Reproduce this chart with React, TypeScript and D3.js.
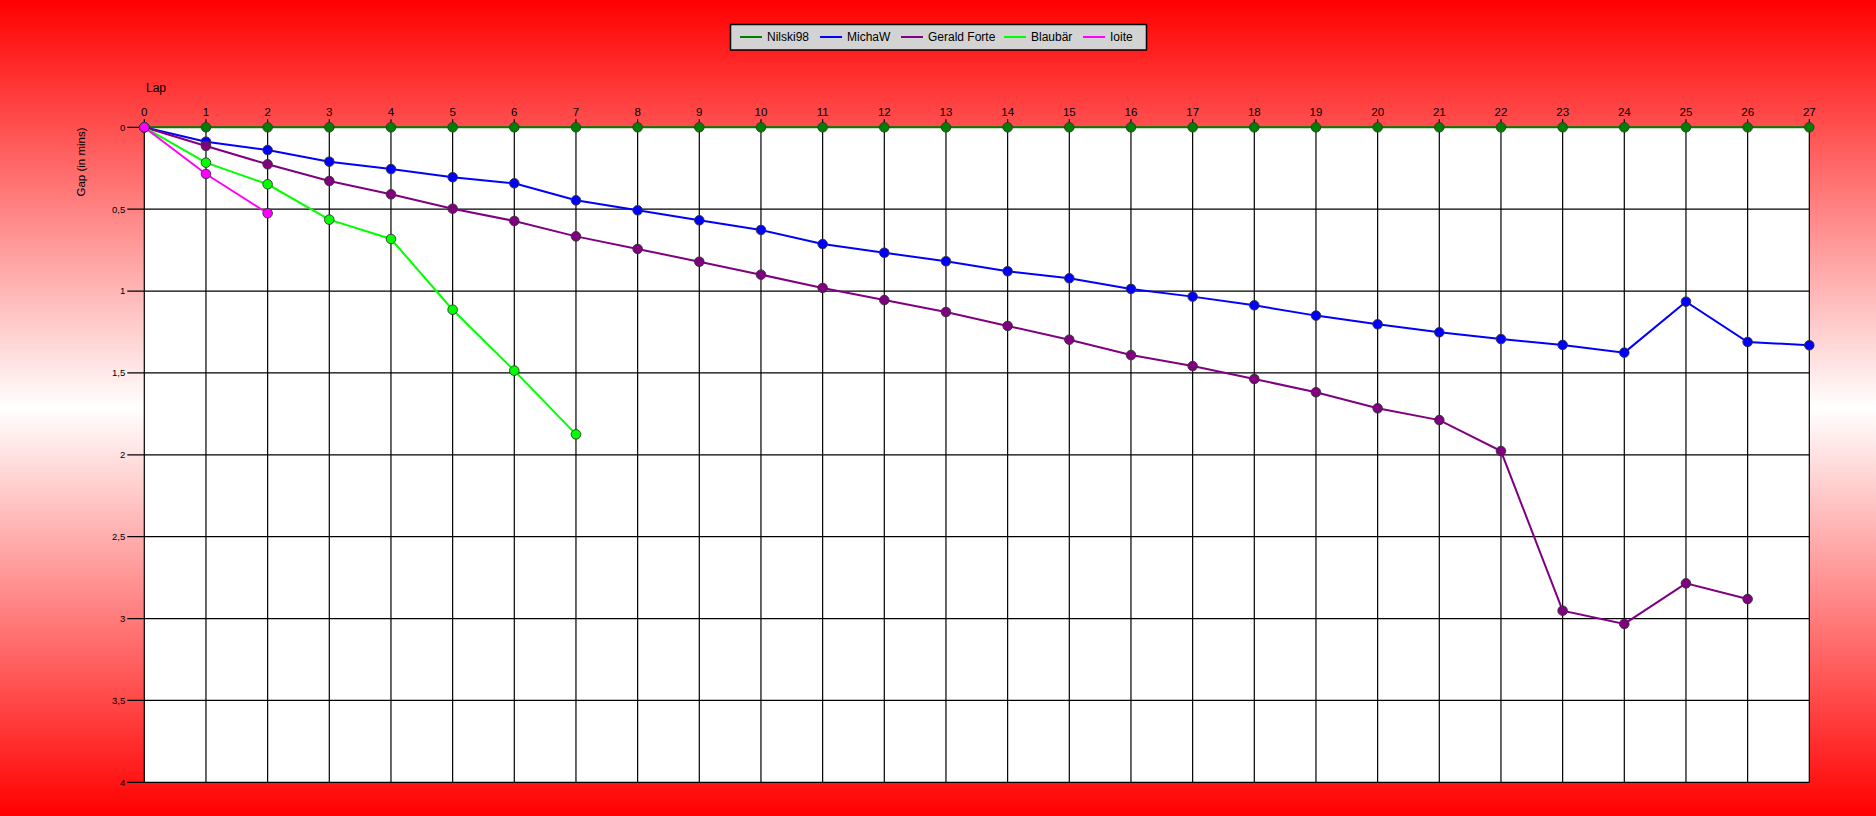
import React, { useEffect } from "react";
import * as d3 from "d3";

const laps = d3.range(0, 28);
const nilski98 = laps.map(() => 0);
const michaW = [0, 0.088, 0.139, 0.21, 0.255, 0.305, 0.342, 0.446, 0.507, 0.568, 0.627, 0.713, 0.766, 0.818, 0.879, 0.922, 0.987, 1.034, 1.087, 1.15, 1.203, 1.252, 1.293, 1.329, 1.376, 1.065, 1.311, 1.331];
const geraldForte = [0, 0.114, 0.226, 0.328, 0.409, 0.497, 0.572, 0.666, 0.743, 0.821, 0.9, 0.981, 1.055, 1.128, 1.213, 1.297, 1.391, 1.458, 1.537, 1.618, 1.716, 1.788, 1.977, 2.952, 3.033, 2.785, 2.881];
const blaubaer = [0, 0.216, 0.348, 0.564, 0.682, 1.114, 1.486, 1.875];
const ioite = [0, 0.285, 0.525];

const seriesNames = ["Nilski98", "MichaW", "Gerald Forte", "Blaubär", "Ioite"];
const seriesColors = ["#008000", "#0000ff", "#800080", "#00ff00", "#ff00ff"];
const seriesValues = [nilski98, michaW, geraldForte, blaubaer, ioite];
const yTicks = [0, 0.5, 1, 1.5, 2, 2.5, 3, 3.5, 4];
const yTickLabels = ["0", "0,5", "1", "1,5", "2", "2,5", "3", "3,5", "4"];

const W = 1876;
const H = 816;
const left = 144.3;
const right = 1809.3;
const top = 127.3;
const bottom = 782.3;

export default function App() {
  useEffect(() => {
    document.body.style.margin = "0";
  }, []);

  const x = d3.scaleLinear().domain([0, 27]).range([left, right]);
  const y = d3.scaleLinear().domain([0, 4]).range([top, bottom]);
  const line = d3
    .line<number>()
    .x((_, i) => x(i))
    .y((d) => y(d));

  const font = "'Liberation Sans', Arial, sans-serif";

  const legendX = [740, 820, 901, 1004, 1083];

  return (
    <svg width={W} height={H} style={{ display: "block" }} fontFamily={font}>
      <defs>
        <linearGradient id="bg" x1="0" y1="0" x2="0" y2="1">
          <stop offset="0%" stopColor="#ff0000" />
          <stop offset="50%" stopColor="#ffffff" />
          <stop offset="100%" stopColor="#ff0000" />
        </linearGradient>
      </defs>
      <rect x={0} y={0} width={W} height={H} fill="url(#bg)" />
      <rect x={left} y={top} width={right - left} height={bottom - top} fill="#ffffff" />

      {/* vertical grid + x ticks */}
      {laps.map((l) => (
        <g key={"vx" + l}>
          <line x1={x(l)} x2={x(l)} y1={top - 8} y2={bottom} stroke="#000" strokeWidth={1.2} />
          <text x={x(l)} y={top - 11} fontSize={11.5} textAnchor="middle" fill="#000">
            {l}
          </text>
        </g>
      ))}
      {/* horizontal grid + y ticks */}
      {yTicks.map((t, i) => (
        <g key={"hy" + t}>
          <line x1={left - 17} x2={right} y1={y(t)} y2={y(t)} stroke="#000" strokeWidth={1.2} />
          <text x={left - 19} y={y(t)} dy="0.35em" fontSize={9.5} textAnchor="end" fill="#000">
            {yTickLabels[i]}
          </text>
        </g>
      ))}

      <text x={146} y={92} fontSize={12} fill="#000">
        Lap
      </text>
      <text
        transform={`translate(85,162) rotate(-90)`}
        fontSize={11.5}
        textAnchor="middle"
        fill="#000"
      >
        Gap (in mins)
      </text>

      {seriesValues.map((vals, si) => (
        <g key={"s" + si}>
          <path d={line(vals) || ""} fill="none" stroke={seriesColors[si]} strokeWidth={2} />
          {vals.map((v, i) => (
            <circle
              key={i}
              cx={x(i)}
              cy={y(v)}
              r={4.8}
              fill={seriesColors[si]}
              stroke="#333"
              strokeWidth={0.9}
            />
          ))}
        </g>
      ))}

      {/* legend */}
      <rect x={730.5} y={24.5} width={416} height={25.5} fill="#d3d3d3" stroke="#000" strokeWidth={1.5} />
      {seriesNames.map((n, i) => (
        <g key={"lg" + i}>
          <line x1={legendX[i]} x2={legendX[i] + 22} y1={37} y2={37} stroke={seriesColors[i]} strokeWidth={2} />
          <text x={legendX[i] + 27} y={37} dy="0.35em" fontSize={12} fill="#000">
            {n}
          </text>
        </g>
      ))}
    </svg>
  );
}
